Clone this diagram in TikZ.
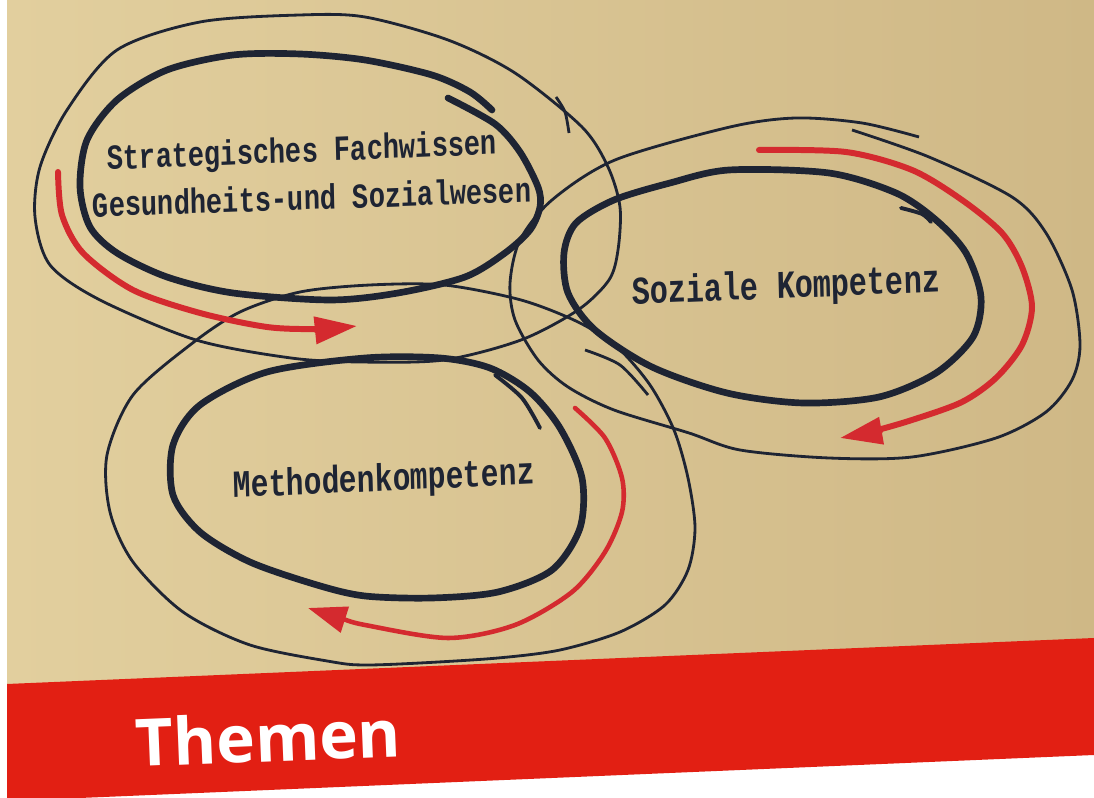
\documentclass[tikz,border=0pt]{standalone}
\usepackage{fontspec}
\newfontfamily\typefont{Liberation Mono}
\newfontfamily\bannerfont{Open Sans}
\usetikzlibrary{arrows.meta}
\definecolor{paperlight}{HTML}{E2CF9E}
\definecolor{paperdark}{HTML}{CFB886}
\definecolor{ink}{HTML}{1E2433}
\definecolor{marker}{HTML}{D42A2F}
\definecolor{bannerred}{HTML}{E21F13}
\tikzset{
  thinloop/.style={draw=ink, line width=0.8pt},
  thickloop/.style={draw=ink, line width=1.9pt, line cap=round},
  redflow/.style={draw=marker, line width=1.7pt, line cap=round, -{Triangle[length=12pt,width=7.5pt]}},
  typed/.style={font=\typefont\bfseries, text=ink, inner sep=0pt, yscale=1.3},
}
\begin{document}
\begin{tikzpicture}[x={(0.01cm,0)}, y={(0,-0.01cm)}]
  \useasboundingbox (0,0) rectangle (1094,798);
  \fill[white] (0,0) rectangle (1094,798);
  \shade[left color=paperlight, right color=paperdark] (7,0) rectangle (1094,690);
  % outer thin loops
  \draw[thinloop] plot[smooth cycle] coordinates {(300,15) (365,17) (448,40) (515,73) (582,127) (608,167) (620,207) (618,250) (609,280) (578,310) (521,340) (444,360) (360,362) (291,358) (196,340) (100,300) (50,265) (35,217) (40,167) (67,110) (117,50) (200,22)};
  \draw[thinloop] plot[smooth] coordinates {(556,97) (565,112) (569,133)};
  \draw[thinloop] plot[smooth cycle] coordinates {(133,395) (190,345) (240,312) (300,292) (370,285) (444,285) (521,300) (578,322) (617,347) (650,385) (674,430) (688,478) (695,528) (688,570) (665,605) (620,632) (560,650) (498,658) (420,663) (365,665) (333,662) (250,645) (183,612) (133,562) (110,512) (107,455)};
  \draw[thinloop] plot[smooth] coordinates {(585,350) (620,365) (648,395)};
  \draw[thinloop] plot[smooth] coordinates {(852,130) (929,157) (1012,197) (1046,233) (1072,290) (1080,345) (1072,380) (1046,412) (996,438) (912,457) (829,458) (740,450) (689,433) (614,410) (568,387) (538,360) (515,320) (510,283) (520,240) (552,200) (615,160) (730,127) (796,118) (862,123) (919,137)};
  % thick inner loops
  \draw[thickloop] plot[smooth] coordinates {(448,98) (495,124) (520,152) (538,187) (540,207) (530,230) (505,253) (465,277) (398,293) (330,300) (233,293) (167,277) (117,253) (90,227) (80,187) (87,140) (117,100) (167,70) (233,55) (300,54) (365,60) (432,75) (470,92) (492,110)};
  \draw[thickloop] plot[smooth cycle] coordinates {(365,358) (440,358) (490,368) (530,392) (560,428) (582,478) (580,528) (552,570) (498,592) (432,598) (365,596) (317,585) (250,562) (200,532) (173,495) (173,445) (200,405) (267,372)};
  \draw[thickloop, line width=1.1pt] plot[smooth] coordinates {(495,375) (522,398) (540,428)};
  \draw[thickloop] plot[smooth cycle] coordinates {(729,170) (829,173) (896,193) (936,220) (966,253) (981,297) (973,337) (936,373) (879,397) (803,403) (727,393) (652,367) (595,330) (568,293) (564,253) (576,223) (614,200) (670,183)};
  \draw[thickloop, line width=1.1pt] plot[smooth] coordinates {(901,208) (922,214) (931,222)};
  % red arrows
  \draw[redflow] plot[smooth] coordinates {(58,172) (62,215) (83,253) (133,290) (200,313) (267,327) (317,329) (357,326)};
  \draw[redflow] plot[smooth] coordinates {(759,150) (846,152) (912,170) (962,200) (1002,233) (1022,267) (1032,307) (1022,345) (996,378) (962,402) (912,420) (870,432) (840,438)};
  \draw[redflow, line width=1.3pt, -{Triangle[length=11pt,width=7.5pt]}] plot[smooth] coordinates {(575,408) (605,438) (622,478) (622,512) (605,552) (572,592) (515,625) (448,638) (365,625) (340,618) (308,608)};
  % labels
  \node[typed, font=\typefont\bfseries\fontsize{7.7pt}{9pt}\selectfont, rotate=1.8] (strat1) at (302,153) {Strategisches Fachwissen};
  \node[typed, font=\typefont\bfseries\fontsize{7.7pt}{9pt}\selectfont, rotate=1.5] (strat2) at (312,197) {Gesundheits-und Sozialwesen};
  \node[typed, font=\typefont\bfseries\fontsize{8.6pt}{10pt}\selectfont, rotate=1.8] (sozial) at (786,288) {Soziale Kompetenz};
  \node[typed, font=\typefont\bfseries\fontsize{8.4pt}{10pt}\selectfont, rotate=2] (method) at (384,481) {Methodenkompetenz};
  % banner
  \fill[bannerred] (7,684) -- (1094,638) -- (1094,755) -- (80,798) -- (7,798) -- cycle;
  \node[anchor=base west, inner sep=0pt, rotate=2.3, text=white, font=\bannerfont\bfseries\fontsize{18.6pt}{22pt}\selectfont] (themen) at (136,767) {Themen};
\end{tikzpicture}
\end{document}
